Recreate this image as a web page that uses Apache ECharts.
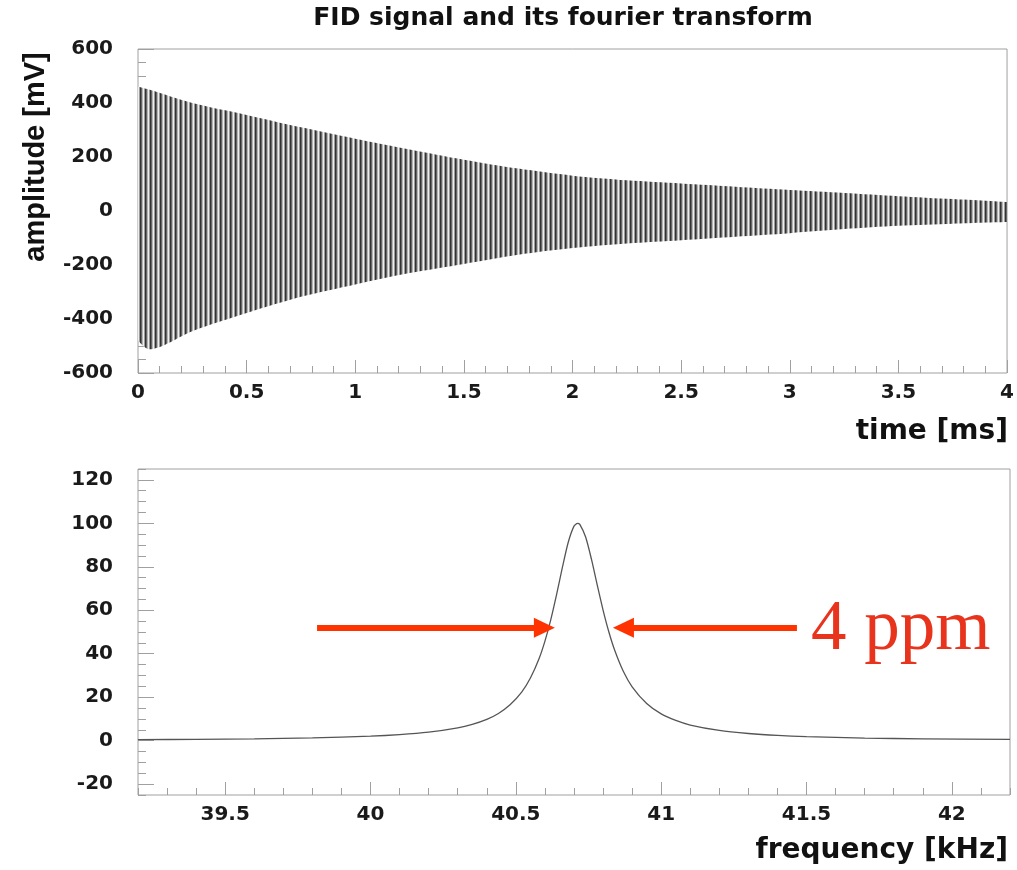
<!DOCTYPE html>
<html><head><meta charset="utf-8">
<script src="https://cdn.jsdelivr.net/npm/echarts@6/dist/echarts.min.js"></script>
<style>html,body{margin:0;padding:0;background:#fff}#c{width:1017px;height:870px}</style>
</head><body><div id="c"></div>
<script>
// ---- FID signal (top panel): envelope of the dense oscillation
const timeMs        = [0, 0.05, 0.25, 0.5, 0.75, 1.0, 1.25, 1.5, 1.75, 2.0, 2.25, 2.5, 2.75, 3.0, 3.25, 3.5, 3.75, 4.0];
const upperEnvelope = [460, 450, 400, 356, 310, 268, 228, 190, 157, 131, 114, 102, 90, 78, 67, 55, 44, 33];
const lowerEnvelope = [-480, -512, -445, -378, -318, -272, -230, -196, -162, -137, -120, -108, -95, -82, -67, -55, -47, -41];
const timeTicks = [0, 0.5, 1, 1.5, 2, 2.5, 3, 3.5, 4];
const ampTicks  = [-600, -400, -200, 0, 200, 400, 600];

// ---- Fourier transform (bottom panel)
const freqKHz      = [39.2, 39.4, 39.6, 39.8, 40.0, 40.1, 40.2, 40.3, 40.35, 40.4, 40.44, 40.48, 40.52, 40.55, 40.58, 40.6, 40.62, 40.64, 40.66, 40.68, 40.7, 40.712, 40.72, 40.74, 40.76, 40.78, 40.8, 40.82, 40.84, 40.87, 40.9, 40.95, 41.0, 41.05, 41.1, 41.2, 41.3, 41.4, 41.5, 41.7, 41.9, 42.2];
const fftAmplitude = [0.5, 0.6, 0.85, 1.3, 2.05, 2.75, 3.9, 5.9, 7.5, 9.8, 12.5, 16.5, 22.3, 28.8, 37.8, 45.8, 55.6, 67.2, 79.7, 91.2, 98.7, 100, 99.5, 93.7, 83.5, 71.6, 60.1, 50, 41.6, 31.8, 24.8, 17.1, 12.3, 9.3, 7.2, 4.7, 3.3, 2.4, 1.85, 1.2, 0.85, 0.55];
const freqTicks = [39.5, 40, 40.5, 41, 41.5, 42];
const fftTicks  = [-20, 0, 20, 40, 60, 80, 100, 120];

// ---- width annotation
const widthLevel = 52;
const leftArrowX  = [39.816, 40.598];
const rightArrowX = [41.467, 40.870];
const widthLabel = '4 ppm';

// stripe pattern imitating the densely packed oscillation strokes
const pc = document.createElement('canvas');
pc.width = 5; pc.height = 4;
const g = pc.getContext('2d');
const cols = ['#333333', '#666666', '#b4b4b4', '#eeeeee', '#9c9c9c'];
cols.forEach((c, i) => { g.fillStyle = c; g.fillRect(i, 0, 1, 4); });
const stripe = { image: pc, repeat: 'repeat' };

const LBL = { fontFamily: 'DejaVu Sans', fontWeight: 'bold', fontSize: 20, color: '#1a1a1a' };
const FRAME = '#a0a0a0';
const isMult = (v, step) => Math.abs(v / step - Math.round(v / step)) < 1e-6;
const noLine = { show: false, onZero: false };

const chart = echarts.init(document.getElementById('c'), null, { renderer: 'canvas' });
chart.setOption({
  animation: false,
  backgroundColor: '#fff',
  grid: [
    { left: 138, top: 49, width: 872, height: 324, show: true, borderColor: FRAME, borderWidth: 1, backgroundColor: 'transparent' },
    { left: 138, top: 469, width: 872, height: 326, show: true, borderColor: FRAME, borderWidth: 1, backgroundColor: 'transparent' }
  ],
  xAxis: [
    { type: 'value', gridIndex: 0, position: 'bottom', min: 0, max: 4, interval: 0.5,
      axisLine: noLine, splitLine: { show: false },
      axisTick: { inside: true, length: 13, lineStyle: { color: FRAME } },
      minorTick: { show: true, splitNumber: 5, length: 7, lineStyle: { color: FRAME } },
      axisLabel: Object.assign({ margin: 10, customValues: timeTicks }, LBL) },
    { type: 'value', gridIndex: 1, position: 'bottom', min: 39.2, max: 42.2, interval: 0.1,
      axisLine: noLine, splitLine: { show: false },
      axisTick: { inside: true, length: 7, lineStyle: { color: FRAME } },
      axisLabel: Object.assign({ margin: 10, interval: 0,
        formatter: v => isMult(v, 0.5) ? String(+v.toFixed(1)) : '' }, LBL) },
    { type: 'value', gridIndex: 1, position: 'bottom', min: 39.2, max: 42.2,
      axisLine: noLine, splitLine: { show: false },
      axisTick: { inside: true, length: 13, customValues: freqTicks, lineStyle: { color: FRAME } },
      axisLabel: { show: false } }
  ],
  yAxis: [
    { type: 'value', gridIndex: 0, position: 'left', min: -600, max: 600, interval: 200,
      axisLine: noLine, splitLine: { show: false },
      axisTick: { inside: true, length: 16, lineStyle: { color: FRAME } },
      minorTick: { show: true, splitNumber: 4, length: 8, lineStyle: { color: FRAME } },
      axisLabel: Object.assign({ margin: 25, customValues: ampTicks }, LBL) },
    { type: 'value', gridIndex: 1, position: 'left', min: -25, max: 125, interval: 5,
      axisLine: noLine, splitLine: { show: false },
      axisTick: { inside: true, length: 8, lineStyle: { color: FRAME } },
      axisLabel: Object.assign({ margin: 25, interval: 0,
        formatter: v => isMult(v, 20) ? String(v) : '' }, LBL) },
    { type: 'value', gridIndex: 1, position: 'left', min: -25, max: 125,
      axisLine: noLine, splitLine: { show: false },
      axisTick: { inside: true, length: 16, customValues: fftTicks, lineStyle: { color: FRAME } },
      axisLabel: { show: false } }
  ],
  series: [
    { type: 'line', xAxisIndex: 0, yAxisIndex: 0, smooth: 0.3, showSymbol: false, silent: true,
      data: timeMs.map((t, i) => [t, upperEnvelope[i]]),
      lineStyle: { width: 0, opacity: 0 }, areaStyle: { color: stripe, opacity: 1, origin: 'auto' } },
    { type: 'line', xAxisIndex: 0, yAxisIndex: 0, smooth: 0.3, showSymbol: false, silent: true,
      data: timeMs.map((t, i) => [t, lowerEnvelope[i]]),
      lineStyle: { width: 0, opacity: 0 }, areaStyle: { color: stripe, opacity: 1, origin: 'auto' } },
    { type: 'line', xAxisIndex: 1, yAxisIndex: 1, smooth: 0.25, showSymbol: false, silent: true,
      data: freqKHz.map((f, i) => [f, fftAmplitude[i]]),
      lineStyle: { color: '#555', width: 1.3 },
      markLine: {
        silent: true, symbol: ['none', 'triangle'], symbolSize: [20, 21],
        lineStyle: { color: '#ff3300', width: 6, type: 'solid', opacity: 1 },
        itemStyle: { color: '#ff3300' },
        label: { show: false }, emphasis: { disabled: true },
        data: [
          [{ coord: [leftArrowX[0], widthLevel] }, { coord: [leftArrowX[1], widthLevel] }],
          [{ coord: [rightArrowX[0], widthLevel] }, { coord: [rightArrowX[1], widthLevel] }]
        ]
      } }
  ],
  graphic: [
    { type: 'text', x: 563, y: 18, style: { text: 'FID signal and its fourier transform', fontFamily: 'DejaVu Sans', fontWeight: 'bold', fontSize: 25, fill: '#111', align: 'center', verticalAlign: 'middle' } },
    { type: 'text', x: 36, y: 157, rotation: Math.PI / 2, style: { text: 'amplitude [mV]', fontFamily: 'Liberation Sans', fontWeight: 'bold', fontSize: 29, fill: '#111', align: 'center', verticalAlign: 'middle' } },
    { type: 'text', x: 1008, y: 432, style: { text: 'time [ms]', fontFamily: 'DejaVu Sans', fontWeight: 'bold', fontSize: 28, fill: '#111', align: 'right', verticalAlign: 'middle' } },
    { type: 'text', x: 1008, y: 851, style: { text: 'frequency [kHz]', fontFamily: 'DejaVu Sans', fontWeight: 'bold', fontSize: 28, fill: '#111', align: 'right', verticalAlign: 'middle' } },
    { type: 'text', x: 811, y: 630, style: { text: widthLabel, fontFamily: 'Liberation Serif', fontSize: 71, fill: '#e8341c', align: 'left', verticalAlign: 'middle' } }
  ]
});
</script></body></html>
